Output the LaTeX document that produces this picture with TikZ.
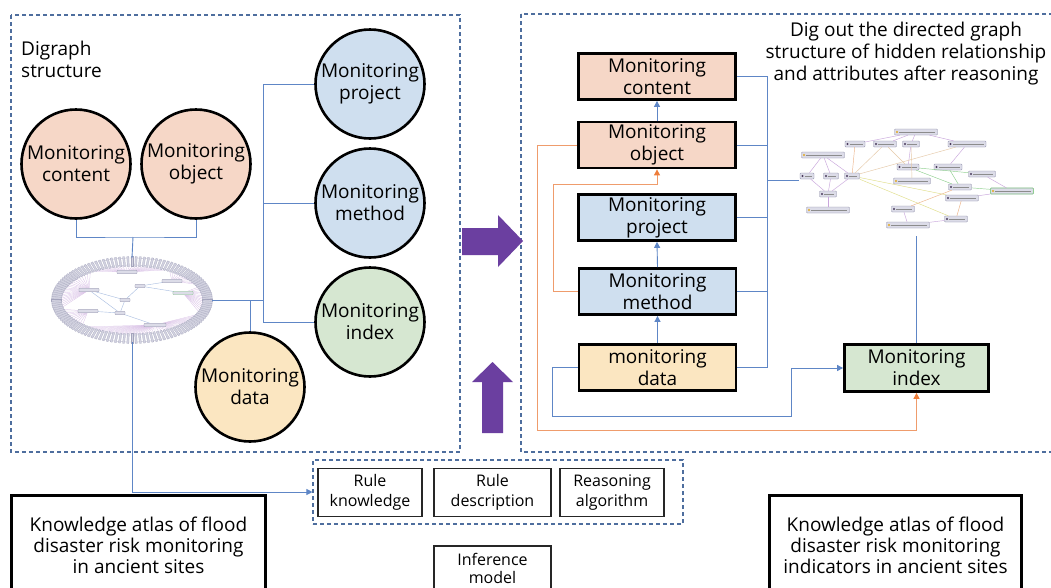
\documentclass[tikz,border=0pt]{standalone}
\usepackage{fontspec}
\setmainfont{Open Sans}
\usetikzlibrary{arrows.meta,shapes.geometric}

\definecolor{peach}{HTML}{F6D7C7}
\definecolor{paleblue}{HTML}{CFDFEF}
\definecolor{palegreen}{HTML}{D6E7D1}
\definecolor{paleyellow}{HTML}{FBE6C1}
\definecolor{linkblue}{HTML}{5E86C6}
\definecolor{linkorange}{HTML}{EF9C6C}
\definecolor{tiporange}{HTML}{EE7D3A}
\definecolor{frameblue}{HTML}{4E6E9E}
\definecolor{bigarrow}{HTML}{6B3FA0}
\definecolor{chipfill}{HTML}{DCDCE8}
\definecolor{chipedge}{HTML}{8A8AA6}
\definecolor{ringfill}{HTML}{D2D2E0}
\definecolor{ringedge}{HTML}{A4A4BC}
\definecolor{eP}{HTML}{C9A6DC}
\definecolor{eT}{HTML}{E6C9A8}
\definecolor{eY}{HTML}{E0DE88}
\definecolor{eG}{HTML}{8FD08F}
\definecolor{eO}{HTML}{EDB48A}
\definecolor{dotY}{HTML}{E3A91E}
\definecolor{dotD}{HTML}{4A3A5C}

\newcommand\txtbig{\fontsize{19}{22}\selectfont}
\newcommand\txtatlas{\fontsize{19}{21}\selectfont}
\newcommand\txtrule{\fontsize{16}{20}\selectfont}

\begin{document}
\begin{tikzpicture}[x=1pt,y=-1pt,
  circ/.style={circle, draw=black, line width=2.6pt, minimum size=109pt,
    inner sep=0pt, align=center, font=\txtbig},
  stagebox/.style={rectangle, draw=black, line width=2.8pt, minimum width=157pt,
    minimum height=46pt, inner sep=0pt, align=center, font=\txtbig},
  rulebox/.style={rectangle, draw=black!85, line width=1.1pt, minimum height=48pt,
    inner sep=0pt, align=center, font=\txtrule},
  atlas/.style={rectangle, draw=black, line width=3pt, minimum height=100pt,
    inner sep=0pt, align=center, font=\txtatlas},
  frame/.style={draw=frameblue, line width=1.1pt, dash pattern=on 4pt off 3pt},
  bl/.style={draw=linkblue, line width=0.9pt},
  org/.style={draw=linkorange, line width=1pt},
  btip/.style={-{Triangle[length=6pt,width=6pt,color=linkblue]}},
  otip/.style={-{Triangle[length=6pt,width=6pt,color=tiporange]}},
  ringchip/.style={rectangle, fill=ringfill, draw=ringedge, line width=0.2pt,
    minimum width=10pt, minimum height=2pt, inner sep=0pt},
  hubchip/.style={rectangle, rounded corners=0.8pt, fill=chipfill, draw=chipedge,
    line width=0.3pt, minimum height=3.6pt, inner sep=0pt},
  mchip/.style={rectangle, rounded corners=0.8pt, fill=chipfill, draw=chipedge,
    line width=0.35pt, minimum height=6pt, inner sep=0pt},
  stub/.style={draw=black!45, line width=1pt},
  pinkfan/.style={draw=eP!80, line width=0.25pt},
  hublink/.style={draw=linkblue!55, line width=0.4pt},
  medge/.style={line width=0.45pt}
]
\useasboundingbox (0,0) rectangle (1051,587);
\fill[white] (0,0) rectangle (1051,587);

% ---------------- panels ----------------
\draw[frame] (11,15) rectangle (460,452);
\draw[frame] (521,14) rectangle (1070,452);

\node[anchor=west, align=left, inner sep=0pt, font=\txtbig] (title) at (21,59)
  {Digraph\\structure};

% ---------------- left: concept circles ----------------
\node[circ, fill=peach]      (lc) at (76,164)  {Monitoring\\content};
\node[circ, fill=peach]      (lo) at (196,164) {Monitoring\\object};
\node[circ, fill=paleblue]   (lp) at (370,84)  {Monitoring\\project};
\node[circ, fill=paleblue]   (lm) at (370,203) {Monitoring\\method};
\node[circ, fill=palegreen]  (li) at (370,322) {Monitoring\\index};
\node[circ, fill=paleyellow] (ld) at (250,387) {Monitoring\\data};

% ---------------- left: ring-layout knowledge graph ----------------
\node[ellipse, minimum width=160pt, minimum height=84pt, inner sep=0pt] (lg) at (132,300) {};

\coordinate (h1) at (127,272);
\coordinate (h2) at (172,281);
\coordinate (h3) at (89,290);
\coordinate (h4) at (183,293);
\coordinate (h5) at (140,286);
\coordinate (h6) at (125,300);
\coordinate (h7) at (88,311);
\coordinate (h8) at (120,313);
\coordinate (h9) at (155,325);

\foreach \t in {62,65,...,122}  \draw[pinkfan] (h1) -- ({132+71*cos(\t)},{300-34*sin(\t)});
\foreach \t in {28,31,...,58}   \draw[pinkfan] (h2) -- ({132+71*cos(\t)},{300-34*sin(\t)});
\foreach \t in {126,129,...,192} \draw[pinkfan] (h3) -- ({132+71*cos(\t)},{300-34*sin(\t)});
\foreach \t in {-20,-17,...,24} \draw[pinkfan] (h4) -- ({132+71*cos(\t)},{300-34*sin(\t)});
\foreach \t in {196,199,...,228} \draw[pinkfan] (h7) -- ({132+71*cos(\t)},{300-34*sin(\t)});
\foreach \t in {232,235,...,336} \draw[pinkfan] (h9) -- ({132+71*cos(\t)},{300-34*sin(\t)});

\draw[ringedge!70, line width=0.4pt] (lg.center) ellipse [x radius=80pt, y radius=42pt];
\draw[ringedge!70, line width=0.4pt] (lg.center) ellipse [x radius=71pt, y radius=35pt];
\foreach \t in {0,3,...,357}
  \node[ringchip, rotate=\t] at ({132+75.5*cos(\t)},{300-38.5*sin(\t)}) {};

\draw[hublink] (h5) -- (h2);
\draw[hublink] (h5) -- (h6);
\draw[hublink] (h6) -- (h8);
\draw[hublink] (h8) -- (h3);
\draw[hublink] (h8) -- (h7);
\draw[hublink] (h8) -- (h9);
\draw[hublink] (h5) -- (h4);
\draw[hublink] (h3) -- (h6);

\foreach \h/\w in {h1/20,h2/20,h3/20,h4/20,h5/10,h6/10,h7/20,h8/10,h9/22}
  \node[hubchip, minimum width=\w pt] (n\h) at (\h) {};
\node[hubchip, minimum width=20pt, draw=eG] at (h4) {};

% ---------------- left: connectors ----------------
\coordinate (jtop) at (133,237);
\coordinate (jbus) at (263,300);
\draw[bl] (lc.south) |- (jtop) -| (lo.south);
\draw[bl] (jtop) -- (lg.north);
\draw[bl] (lg.east) -- (jbus);
\draw[bl] (lp.west) -| (jbus);
\draw[bl] (li.west) -| (jbus);
\draw[bl] (lm.west) -- (lm.west -| jbus);
\draw[bl] (ld.north) |- (lg.east);

% ---------------- rules ----------------
\node[rectangle, frame, minimum width=370pt, minimum height=64pt, inner sep=0pt] (rules) at (498,492) {};
\node[rulebox, minimum width=104pt] (rk) at (370,492.5)   {Rule\\knowledge};
\node[rulebox, minimum width=117pt] (rdsc) at (492.5,492.5) {Rule\\description};
\node[rulebox, minimum width=104pt] (ralg) at (612,492.5) {Reasoning\\algorithm};
\draw[bl, btip] (lg.south) |- (rules.west);

\node[rulebox, minimum width=117pt, minimum height=44pt,
  font=\fontsize{16}{18}\selectfont] (inf) at (492.5,568) {Inference\\model};

% ---------------- atlases ----------------
\node[atlas, minimum width=254pt] (atl) at (138.5,545)
  {Knowledge atlas of flood\\disaster risk monitoring\\in ancient sites};
\node[atlas, minimum width=252pt] (atr) at (895.5,545)
  {Knowledge atlas of flood\\disaster risk monitoring\\indicators in ancient sites};

% ---------------- big purple arrows ----------------
\fill[bigarrow] (462,228) -- (498,228) -- (498,215) -- (523,241) -- (498,267)
  -- (498,255) -- (462,255) -- cycle;
\fill[bigarrow] (482,433) -- (482,382) -- (472,382) -- (492.5,362) -- (513,382)
  -- (503,382) -- (503,433) -- cycle;

% ---------------- right: stage boxes ----------------
\node[stagebox, fill=peach]      (rc)  at (657,76.5)  {Monitoring\\content};
\node[stagebox, fill=peach]      (ro)  at (657,145)   {Monitoring\\object};
\node[stagebox, fill=paleblue]   (rp)  at (657,217.5) {Monitoring\\project};
\node[stagebox, fill=paleblue]   (rm)  at (657.5,291.5) {Monitoring\\method};
\node[stagebox, fill=paleyellow] (rdt) at (657.5,367.5) {monitoring\\data};
\node[stagebox, fill=palegreen, minimum width=144pt, minimum height=47pt] (ri) at (916.5,368) {Monitoring\\index};

\node[align=center, inner sep=0pt, font=\txtbig] (caption) at (906,54)
  {Dig out the directed graph\\structure of hidden relationship\\and attributes after reasoning};

% ---------------- right: inferred graph ----------------
\node[minimum width=238pt, minimum height=112pt, inner sep=0pt] (mg) at (918,180) {};

\foreach \n/\x/\y/\w/\c in {
  1/916/132/43/dotY, 2/855/144/20/dotD, 3/885/144/23/dotD, 4/911/144/17/dotD,
  5/967/144/38/dotD, 6/823/155/43/dotY, 7/908/167/22/dotD, 8/948/167/28/dotD,
  9/807/176/14/dotD, 10/831/176/15/dotD, 11/852/176/15/dotD, 12/912/181/37/dotY,
  13/982/174/27/dotD, 14/960/187/23/dotD, 15/1012/191/43/dotY, 16/962/198/33/dotD,
  17/828/194/17/dotD, 18/828/210/43/dotY, 19/903/209/23/dotD, 20/956/219/23/dotD,
  21/908/225/43/dotY}
{
  \node[mchip, minimum width=\w pt] (m\n) at (\x,\y) {};
  \fill[\c] ([xshift=2.6pt]m\n.west) circle (1.1pt);
  \draw[stub] ([xshift=5pt]m\n.west) -- ([xshift=-2.5pt]m\n.east);
}
\node[mchip, minimum width=43pt, draw=eG, fill=none, line width=0.6pt] at (m15) {};

\foreach \a/\b/\c in {1/2/eP, 1/3/eP, 1/4/eP, 1/5/eP, 6/9/eP, 6/10/eP, 6/11/eP,
  9/17/eP, 10/17/eP, 11/17/eP, 17/18/eP, 4/7/eP, 5/8/eP, 13/15/eP, 16/15/eP,
  19/21/eP, 20/21/eP, 3/7/eT, 11/3/eT, 11/2/eO, 11/5/eT, 14/19/eO, 16/20/eO,
  11/20/eY, 11/16/eY, 7/14/eG, 8/14/eG, 14/15/eG, 7/13/eG, 4/12/eT}
  \draw[medge, draw=\c] (m\a) -- (m\b);

% ---------------- right: connectors ----------------
\draw[bl, btip] (ro.north) -- (rc.south);
\draw[bl, btip] (rm.north) -- (rp.south);
\draw[bl, btip] (rdt.north) -- (rm.south);

\coordinate (rbus) at (767,180);
\foreach \b in {rc,ro,rp,rm,rdt} \draw[bl] (\b.east) -| (rbus);
\draw[bl] (rbus) -- (mg.west);
\draw[bl] (ri.north) -- (ri.north |- mg.south);

\draw[org, otip] (rm.west) -| (553,184) -| (ro.south);
\draw[org, otip] (ro.west) -| (537,430) -| (ri.south);
\draw[bl, btip] (rdt.west) -| (552,416) -| (791,368) -- (ri.west);

\end{tikzpicture}
\end{document}
